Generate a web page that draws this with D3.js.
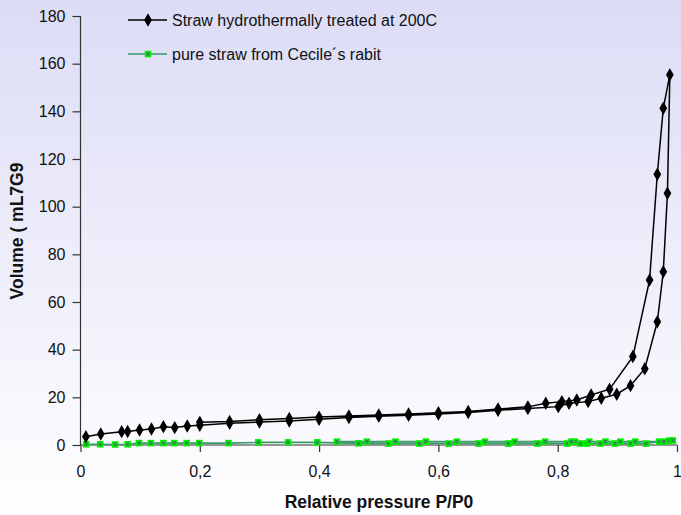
<!DOCTYPE html>
<html><head><meta charset="utf-8">
<script src="https://cdn.jsdelivr.net/npm/d3@7"></script>
<style>body{margin:0;background:#fff}svg{display:block}text{font-family:Arial,"Liberation Sans",sans-serif}</style>
</head><body>
<script>
// Straw hydrothermally treated at 200C: adsorption then desorption branch
const blackP = [0.009,0.034,0.069,0.079,0.099,0.119,0.139,0.158,0.179,0.2,0.25,0.3,0.35,0.4,0.45,0.5,0.55,0.6,0.65,0.7,0.75,0.801,0.819,0.851,0.873,0.899,0.922,0.946,0.967,0.977,0.984,0.988,
  0.977,0.967,0.954,0.926,0.887,0.856,0.832,0.807,0.78,0.75,0.7,0.65,0.6,0.55,0.5,0.45,0.4,0.35,0.3,0.25,0.2];
const blackV = [3.5,4.6,5.6,5.7,6.3,6.7,7.7,7.3,8.0,8.3,9.1,9.6,10.1,10.8,11.5,12.1,12.5,13.0,13.6,14.6,15.3,16.1,17.5,18.2,19.6,21.3,24.9,32.0,51.7,72.7,105.6,155.3,
  141.3,113.6,69.2,37.1,23.4,21.0,18.9,18.2,17.5,16.0,15.1,14.1,13.5,13.0,12.6,12.2,11.7,11.1,10.6,9.9,9.5];
// pure straw from Cecile's rabit
const greenP = [0.0095,0.033,0.058,0.079,0.098,0.118,0.139,0.157,0.178,0.199,0.248,0.298,0.348,0.397,0.466,0.516,0.568,0.617,0.667,0.717,0.766,0.816,0.838,0.849,0.871,0.896,0.922,0.948,0.970,0.987,
  0.993,0.978,0.930,0.905,0.880,0.853,0.829,0.823,0.779,0.728,0.678,0.631,0.579,0.528,0.480,0.430];
const greenV = [0.3,0.3,0.2,0.3,0.8,0.8,0.8,0.8,0.8,0.8,0.8,1.1,1.1,1.1,0.7,0.6,0.6,0.6,0.6,0.6,0.6,0.6,0.6,0.6,0.6,0.6,0.6,0.6,1.4,1.8,
  1.9,1.4,1.4,1.4,1.4,1.4,1.4,1.4,1.4,1.4,1.4,1.4,1.4,1.4,1.4,1.4];
const xTicks = [0,0.2,0.4,0.6,0.8,1];
const xTickLabels = ["0","0,2","0,4","0,6","0,8","1"];
const yTicks = [0,20,40,60,80,100,120,140,160,180];
const seriesNames = ["Straw hydrothermally treated at 200C","pure straw from Cecile\u00b4s rabit"];

const W=681,H=515;
const svg=d3.select("body").append("svg").attr("width",W).attr("height",H);
const defs=svg.append("defs");
const g=defs.append("linearGradient").attr("id","bg").attr("x1",0).attr("y1",0).attr("x2",0).attr("y2",1);
g.append("stop").attr("offset","0%").attr("stop-color","#dcdcf6");
g.append("stop").attr("offset","100%").attr("stop-color","#ffffff");
svg.append("rect").attr("width",W).attr("height",H).attr("fill","url(#bg)");

const x=d3.scaleLinear().domain([0,1]).range([80.5,677]);
const y=d3.scaleLinear().domain([0,180]).range([445,16]);

const xa=svg.append("g").attr("transform","translate(0,445)")
  .call(d3.axisBottom(x).tickValues(xTicks).tickFormat((d,i)=>xTickLabels[i]).tickSize(7).tickPadding(14));
const ya=svg.append("g").attr("transform","translate(80.5,0)")
  .call(d3.axisLeft(y).tickValues(yTicks).tickSize(8).tickPadding(7));
[xa,ya].forEach(a=>{a.selectAll("path,line").attr("stroke","#333").attr("stroke-width",1.2);
  a.selectAll("text").attr("font-size",16).attr("fill","#111").attr("font-family","Arial, 'Liberation Sans', sans-serif");});
ya.select(".domain").attr("d","M-0,445V16");
xa.select(".domain").attr("d","M80.5,0H677");

const line=d3.line().x(d=>x(d[0])).y(d=>y(d[1]));
const green=greenP.map((p,i)=>[p,greenV[i]]);
const black=blackP.map((p,i)=>[p,blackV[i]]);

svg.append("path").attr("d",line(green)).attr("fill","none").attr("stroke","#3a9a6a").attr("stroke-width",1.6);
svg.append("g").selectAll("rect").data(green).join("rect")
  .attr("x",d=>x(d[0])-2.5).attr("y",d=>y(d[1])-2.5).attr("width",5).attr("height",5)
  .attr("fill","#2f8f4f").attr("stroke","#00f000").attr("stroke-width",1.6);

svg.append("path").attr("d",line(black)).attr("fill","none").attr("stroke","#000").attr("stroke-width",1.5);
const diamond=d3.symbol().type(d3.symbolDiamond).size(52);
svg.append("g").selectAll("path").data(black).join("path")
  .attr("transform",d=>`translate(${x(d[0])},${y(d[1])})`).attr("d",diamond).attr("fill","#000");

// legend
const lg=svg.append("g");
lg.append("line").attr("x1",128).attr("x2",167).attr("y1",20).attr("y2",20).attr("stroke","#000").attr("stroke-width",1.5);
lg.append("path").attr("transform","translate(148,20)").attr("d",diamond).attr("fill","#000");
lg.append("text").attr("x",172).attr("y",26).attr("font-size",16).attr("fill","#111").text(seriesNames[0]);
lg.append("line").attr("x1",128).attr("x2",167).attr("y1",54).attr("y2",54).attr("stroke","#3a9a6a").attr("stroke-width",1.6);
lg.append("rect").attr("x",145.5).attr("y",51.5).attr("width",5).attr("height",5).attr("fill","#2f8f4f").attr("stroke","#00f000").attr("stroke-width",1.6);
lg.append("text").attr("x",172).attr("y",60).attr("font-size",16).attr("fill","#111").text(seriesNames[1]);

svg.append("text").attr("x",379).attr("y",508).attr("text-anchor","middle").attr("font-size",17.5).attr("font-weight","bold").attr("fill","#111").text("Relative pressure P/P0");
svg.append("text").attr("transform","translate(23,231) rotate(-90)").attr("text-anchor","middle").attr("font-size",17.5).attr("font-weight","bold").attr("fill","#111").text("Volume ( mL7G9");
</script>
</body></html>
